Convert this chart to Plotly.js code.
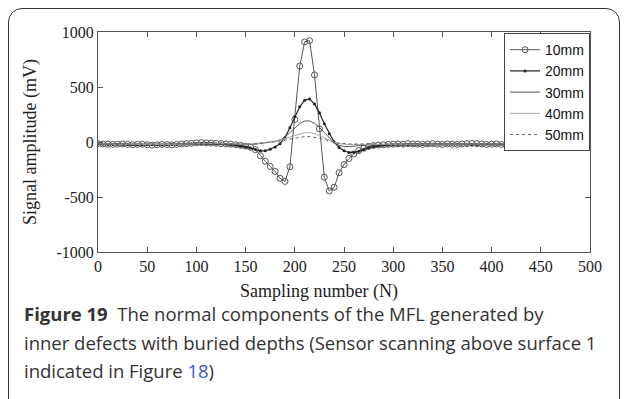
<!DOCTYPE html>
<html>
<head>
<meta charset="utf-8">
<script src="https://cdn.plot.ly/plotly-3.0.1.min.js"></script>
<style>
  html, body { margin: 0; padding: 0; background: #fff; }
  #wrap { position: relative; width: 626px; height: 399px; overflow: hidden; }
  #frame { position: absolute; left: 8px; top: 8px; width: 612px; height: 440px;
           border: 1.5px solid #333; border-radius: 14px; box-sizing: border-box; }
  #chart { position: absolute; left: 0; top: 0; width: 626px; height: 399px; }
</style>
</head>
<body>
<div id="wrap">
  <div id="frame"></div>
  <div id="chart"></div>
</div>
<script>
// Sampling numbers
const sampleN = [
  0,5,10,15,20,25,30,35,40,45,
  50,55,60,65,70,75,80,85,90,95,
  100,105,110,115,120,125,130,135,140,145,
  150,155,160,165,170,175,180,185,190,195,
  200,205,210,215,220,225,230,235,240,245,
  250,255,260,265,270,275,280,285,290,295,
  300,305,310,315,320,325,330,335,340,345,
  350,355,360,365,370,375,380,385,390,395,
  400,405,410,415,420,425,430,435,440,445,
  450,455,460,465,470,475,480,485,490,495,
  500
];

const depth10mm = [
  -15,-18,-20,-22,-20,-18,-22,-25,-22,-20,
  -25,-28,-25,-22,-24,-26,-22,-18,-15,-12,
  -8,-6,-8,-10,-12,-15,-18,-20,-25,-30,
  -38,-48,-70,-125,-175,-222,-268,-330,-358,-225,
  205,690,910,922,610,120,-320,-445,-412,-280,
  -205,-150,-108,-78,-57,-40,-32,-28,-25,-22,
  -20,-18,-20,-15,-18,-20,-22,-18,-15,-20,
  -22,-18,-20,-22,-18,-15,-12,-15,-18,-22,
  -20,-18,-22,-25,-22,-18,-20,-15,-18,-20,
  -25,-22,-20,-18,-22,-20,-18,-15,-18,-15,
  -12
];

const depth20mm = [
  -18,-20,-22,-22,-22,-22,-23,-24,-24,-24,
  -25,-25,-25,-24,-24,-23,-22,-20,-18,-16,
  -14,-13,-13,-14,-15,-17,-20,-24,-30,-38,
  -45,-55,-68,-80,-80,-66,-45,-15,40,130,
  230,320,380,392,345,265,165,75,0,-50,
  -80,-95,-95,-85,-68,-52,-42,-35,-30,-27,
  -25,-24,-24,-23,-23,-22,-22,-22,-21,-21,
  -21,-21,-20,-20,-21,-21,-22,-22,-21,-20,
  -20,-20,-21,-22,-22,-21,-20,-20,-19,-19,
  -20,-21,-21,-20,-20,-19,-18,-18,-17,-16,
  -15
];

const depth30mm = [
  -17,-19,-21,-21,-22,-22,-22,-23,-23,-23,
  -24,-24,-24,-23,-23,-22,-21,-19,-17,-15,
  -13,-12,-12,-13,-14,-16,-18,-20,-22,-22,
  -22,-22,-20,-15,-10,-4,5,20,45,85,
  130,168,190,192,170,135,85,35,-5,-30,
  -40,-42,-40,-35,-30,-27,-25,-24,-23,-22,
  -22,-22,-22,-21,-21,-21,-21,-20,-20,-20,
  -20,-20,-20,-20,-20,-21,-21,-21,-20,-20,
  -20,-20,-20,-21,-21,-20,-20,-19,-19,-19,
  -19,-20,-20,-19,-19,-18,-18,-17,-17,-16,
  -15
];

const depth40mm = [
  -16,-18,-20,-20,-21,-21,-21,-22,-22,-22,
  -23,-23,-23,-22,-22,-21,-20,-18,-16,-14,
  -12,-11,-11,-12,-13,-15,-17,-19,-20,-20,
  -20,-18,-15,-10,-5,0,8,18,30,45,
  60,75,85,86,76,58,38,15,-3,-15,
  -20,-23,-23,-22,-20,-20,-20,-20,-20,-20,
  -20,-20,-20,-20,-20,-20,-20,-19,-19,-19,
  -19,-19,-19,-19,-20,-20,-20,-20,-19,-19,
  -19,-19,-20,-20,-20,-19,-19,-18,-18,-18,
  -18,-19,-19,-18,-18,-17,-17,-17,-16,-16,
  -15
];

const depth50mm = [
  -16,-18,-19,-20,-20,-21,-21,-21,-22,-22,
  -22,-22,-22,-22,-21,-21,-20,-18,-16,-14,
  -12,-11,-11,-12,-13,-14,-16,-18,-19,-20,
  -20,-18,-15,-12,-8,-3,3,10,18,27,
  36,44,50,50,45,35,22,8,-3,-10,
  -15,-17,-18,-18,-18,-19,-19,-19,-19,-19,
  -19,-19,-19,-19,-19,-19,-19,-19,-19,-19,
  -19,-19,-19,-19,-19,-19,-19,-19,-19,-19,
  -19,-19,-19,-19,-19,-19,-19,-18,-18,-18,
  -18,-18,-18,-18,-18,-17,-17,-17,-16,-16,
  -15
];

const seriesNames = ['10mm','20mm','30mm','40mm','50mm'];
const xTicks = [0,50,100,150,200,250,300,350,400,450,500];
const yTicks = [-1000,-500,0,500,1000];

const traces = [
  {x: sampleN, y: depth10mm, name: seriesNames[0], mode: 'lines+markers',
   line: {color: '#555', width: 1},
   marker: {symbol: 'circle-open', size: 6, color: '#555', line: {width: 1, color: '#555'}}},
  {x: sampleN, y: depth20mm, name: seriesNames[1], mode: 'lines+markers',
   line: {color: '#222', width: 1.2},
   marker: {symbol: 'circle', size: 3, color: '#222'}},
  {x: sampleN, y: depth30mm, name: seriesNames[2], mode: 'lines',
   line: {color: '#555', width: 1}},
  {x: sampleN, y: depth40mm, name: seriesNames[3], mode: 'lines',
   line: {color: '#aaa', width: 1}},
  {x: sampleN, y: depth50mm, name: seriesNames[4], mode: 'lines',
   line: {color: '#666', width: 1, dash: 'dot'}}
];

const L = 98, R = 590, T = 32, B = 252;
const W = R - L, H = B - T;
function px(x) { return (x - L) / W; }
function py(y) { return (B - y) / H; }

const capFont = {family: 'Open Sans, Noto Sans, sans-serif', size: 18.5, color: '#333'};

const layout = {
  width: 626, height: 399,
  margin: {l: L, r: 626 - R, t: T, b: 399 - B},
  paper_bgcolor: 'rgba(0,0,0,0)',
  plot_bgcolor: 'rgba(0,0,0,0)',
  showlegend: true,
  legend: {
    x: 1, xanchor: 'right', y: 0.995, yanchor: 'top',
    bgcolor: '#fff', bordercolor: '#444', borderwidth: 1,
    font: {family: 'Liberation Sans, Arial, sans-serif', size: 14, color: '#111'},
    itemwidth: 30, tracegroupgap: 0
  },
  xaxis: {
    range: [0, 500], tickvals: xTicks, ticktext: xTicks.map(String),
    showline: true, linecolor: '#555', linewidth: 1, mirror: 'ticks',
    ticks: 'inside', ticklen: 5, tickcolor: '#555',
    showgrid: false, zeroline: false,
    tickfont: {family: 'Liberation Serif, Times New Roman, serif', size: 16, color: '#222'}
  },
  yaxis: {
    range: [-1000, 1000], tickvals: yTicks, ticktext: yTicks.map(String),
    showline: true, linecolor: '#555', linewidth: 1, mirror: 'ticks',
    ticks: 'inside', ticklen: 5, tickcolor: '#555',
    showgrid: false, zeroline: false,
    tickfont: {family: 'Liberation Serif, Times New Roman, serif', size: 16, color: '#222'}
  },
  annotations: [
    {text: 'Sampling number (N)', xref: 'paper', yref: 'paper',
     x: px(319), y: py(291), xanchor: 'center', yanchor: 'middle', showarrow: false,
     font: {family: 'Liberation Serif, Times New Roman, serif', size: 18, color: '#222'}},
    {text: 'Signal amplitude (mV)', xref: 'paper', yref: 'paper', textangle: -90,
     x: px(30), y: py(142), xanchor: 'center', yanchor: 'middle', showarrow: false,
     font: {family: 'Liberation Serif, Times New Roman, serif', size: 18, color: '#222'}},
    {text: '<b>Figure 19</b>  The normal components of the MFL generated by',
     xref: 'paper', yref: 'paper', x: px(22), y: py(313), xanchor: 'left', yanchor: 'middle',
     showarrow: false, font: capFont},
    {text: 'inner defects with buried depths (Sensor scanning above surface 1',
     xref: 'paper', yref: 'paper', x: px(22), y: py(342), xanchor: 'left', yanchor: 'middle',
     showarrow: false, font: capFont},
    {text: 'indicated in Figure <span style="color:#3a5bd0">18</span>)',
     xref: 'paper', yref: 'paper', x: px(22), y: py(370), xanchor: 'left', yanchor: 'middle',
     showarrow: false, font: capFont}
  ]
};

Plotly.newPlot('chart', traces, layout, {displayModeBar: false, staticPlot: true});
</script>
</body>
</html>
